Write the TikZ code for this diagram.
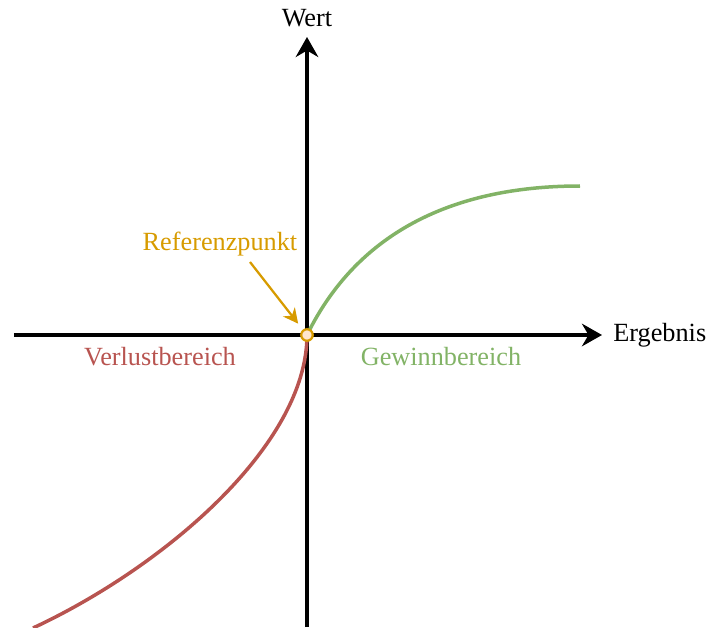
\documentclass[tikz,border=0pt]{standalone}
\usepackage{fontspec}
\setmainfont{Liberation Serif}
\usepackage{tikz}
\usetikzlibrary{arrows.meta}
\usetikzlibrary{positioning}

\definecolor{gainc}{HTML}{82B366}
\definecolor{lossc}{HTML}{B85450}
\definecolor{refc}{HTML}{D79B00}
\definecolor{reffill}{HTML}{FFE6CC}

\begin{document}
\begin{tikzpicture}[
    x=0.4pt,
    y=0.4pt,
    >={Stealth[length=8pt,width=9pt]},
    every node/.style={font=\fontsize{10.5}{12.5}\selectfont},
    axisline/.style={line width=1.45pt},
    curveline/.style={line width=1.4pt}
]

\useasboundingbox (-307,-292) rectangle (400,335);

%------------------------------------------------------------
% Coordinates
%------------------------------------------------------------

\coordinate (O) at (0,0);         % Referenzpunkt
\coordinate (xL) at (-293,0);
\coordinate (xR) at (295,0);
\coordinate (yB) at (0,-292);
\coordinate (yT) at (0,298);
\coordinate (gEnd) at (273,149);  % Ende Gewinn
\coordinate (lEnd) at (-274,-293); % Ende Verlust
\coordinate (reftail) at (-57,73);

%------------------------------------------------------------
% Axes
%------------------------------------------------------------

\draw[->,axisline]
(xL)--(xR)
node[right=0.5pt] (xlab) {Ergebnis};

\draw[->,axisline]
(yB)--(yT)
node[above=0pt] (ylab) {Wert};

%------------------------------------------------------------
% Value function
%------------------------------------------------------------

% gains
\draw[gainc,curveline]
(O) .. controls (55,112) and (160,149) .. (gEnd);

% losses
\draw[lossc,curveline]
(O) .. controls (0,-110) and (-143,-232) .. (lEnd);

%------------------------------------------------------------
% Reference point
%------------------------------------------------------------

\node[
    circle,
    draw=refc,
    fill=reffill,
    line width=0.9pt,
    inner sep=0pt,
    minimum size=4.6pt
]
(ref) at (O) {};

\node[text=refc]
(refl) at (-87,91)
{Referenzpunkt};

\draw[->,refc,line width=0.9pt,>={Stealth[length=6pt,width=6pt]},shorten >=3pt]
(reftail)--(ref);

%------------------------------------------------------------
% Region labels
%------------------------------------------------------------

\node[text=lossc]
(loss) at (-147,-22)
{Verlustbereich};

\node[text=gainc]
(gain) at (134,-22)
{Gewinnbereich};

\end{tikzpicture}
\end{document}
